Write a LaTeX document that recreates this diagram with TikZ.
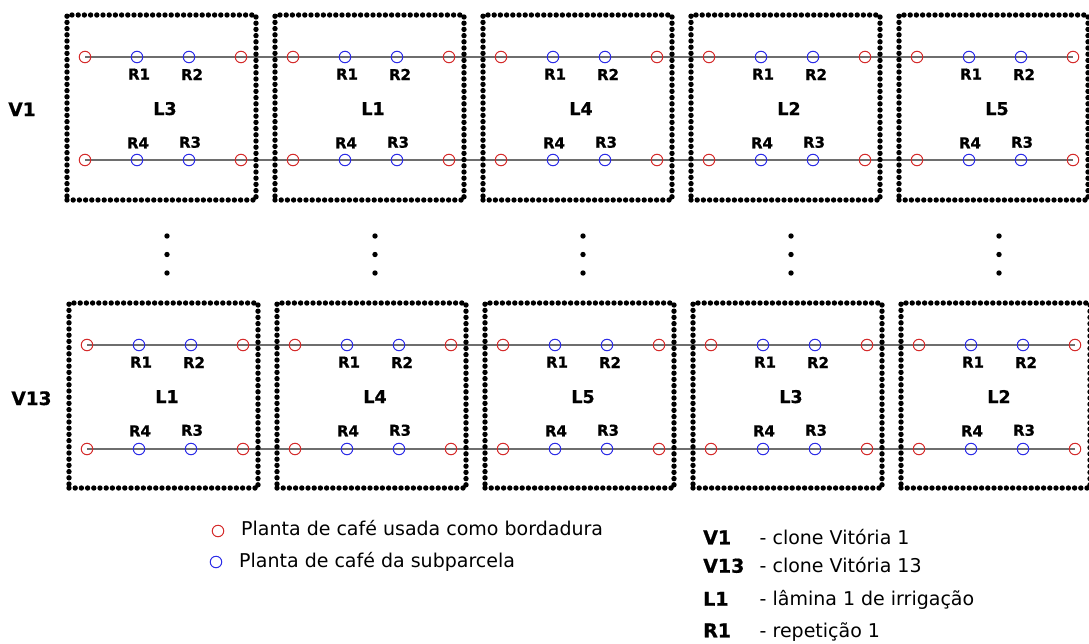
\documentclass[tikz,border=0pt]{standalone}
\usepackage{fontspec}
\setmainfont[BoldFeatures={FakeBold=0.8}]{DejaVu Sans}
\definecolor{edgered}{HTML}{D42A2A}
\definecolor{plotblue}{HTML}{2B2BE6}
\definecolor{rowgray}{HTML}{6E6E6E}
\pgfdeclarelayer{bg}
\pgfsetlayers{bg,main}
\begin{document}
\begin{tikzpicture}[x=1pt,y=-1pt,
  plotbox/.style={draw=black, line width=5.4pt, line cap=round,
    dash pattern=on 0pt off 6.2pt, minimum width=189pt, minimum height=185pt,
    inner sep=0pt},
  plant/.style={circle, draw, line width=1pt, minimum size=11.5pt, inner sep=0pt},
  border/.style={plant, draw=edgered},
  subplot/.style={plant, draw=plotblue},
  rowline/.style={draw=rowgray, line width=1.8pt},
  rlab/.style={font=\fontsize{15}{18}\selectfont\bfseries, inner sep=0pt, anchor=base},
  llab/.style={font=\fontsize{17.5}{21}\selectfont\bfseries, inner sep=0pt, anchor=base},
  vlab/.style={font=\fontsize{18.5}{22}\selectfont\bfseries, inner sep=0pt, anchor=base},
  legtext/.style={font=\fontsize{19}{23}\selectfont, inner sep=0pt, anchor=base west},
  keybold/.style={font=\fontsize{19}{23}\selectfont\bfseries, inner sep=0pt, anchor=base west},
  vdot/.style={fill=black}
]
\useasboundingbox (0,0) rectangle (1089,643);
\clip (0,0) rectangle (1089,643);

% clone V1: five irrigation plots
\foreach \lam [count=\n from 0] in {3,1,4,2,5}{
  \pgfmathsetmacro\L{67+208*\n}
  \node[plotbox] (t\n) at ({\L+94.5},107.5) {};
  \node[border]  (ta\n) at ({\L+18},57) {};
  \node[subplot] (tb\n) at ({\L+70},57) {};
  \node[subplot] (tc\n) at ({\L+122},57) {};
  \node[border]  (td\n) at ({\L+174},57) {};
  \node[border]  (te\n) at ({\L+18},160) {};
  \node[subplot] (tf\n) at ({\L+70},160) {};
  \node[subplot] (tg\n) at ({\L+122},160) {};
  \node[border]  (th\n) at ({\L+174},160) {};
  \node[rlab] (tr1\n) at ({\L+72},79.5) {R1};
  \node[rlab] (tr2\n) at ({\L+125},80) {R2};
  \node[rlab] (tr4\n) at ({\L+71},148.3) {R4};
  \node[rlab] (tr3\n) at ({\L+123},147.7) {R3};
  \node[llab] (tl\n) at ({\L+98},115) {L\lam};
  \fill[vdot] ({\L+100},236) circle (2.7) ({\L+100},254.5) circle (2.7) ({\L+100},273) circle (2.7);
}

% clone V13: five irrigation plots
\foreach \lam [count=\n from 0] in {1,4,5,3,2}{
  \pgfmathsetmacro\L{69+208*\n}
  \node[plotbox] (u\n) at ({\L+94.5},395.5) {};
  \node[border]  (ua\n) at ({\L+18},345) {};
  \node[subplot] (ub\n) at ({\L+70},345) {};
  \node[subplot] (uc\n) at ({\L+122},345) {};
  \node[border]  (ud\n) at ({\L+174},345) {};
  \node[border]  (ue\n) at ({\L+18},449) {};
  \node[subplot] (uf\n) at ({\L+70},449) {};
  \node[subplot] (ug\n) at ({\L+122},449) {};
  \node[border]  (uh\n) at ({\L+174},449) {};
  \node[rlab] (ur1\n) at ({\L+72},367.5) {R1};
  \node[rlab] (ur2\n) at ({\L+125},368) {R2};
  \node[rlab] (ur4\n) at ({\L+71},436.3) {R4};
  \node[rlab] (ur3\n) at ({\L+123},435.7) {R3};
  \node[llab] (ul\n) at ({\L+98},403) {L\lam};
}

% planting rows running through all plots
\begin{pgfonlayer}{bg}
  \draw[rowline] (ta0.center) -- (td4.center);
  \draw[rowline] (te0.center) -- (th4.center);
  \draw[rowline] (ua0.center) -- (ud4.center);
  \draw[rowline] (ue0.center) -- (uh4.center);
\end{pgfonlayer}

% clone labels
\node[vlab] (v1) at (22,116) {V1};
\node[vlab] (v13) at (31.5,405) {V13};

% legend: plant symbols
\node[border]  (kb) at (218,531) {};
\node[legtext] (kbt) at (241,535.5) {Planta de café usada como bordadura};
\node[subplot] (ks) at (216,562) {};
\node[legtext] (kst) at (239,567) {Planta de café da subparcela};

% legend: abbreviations
\node[keybold] (kv1) at (703,544.3) {V1};
\node[legtext] (kv1t) at (759.5,544.3) {- clone Vitória 1};
\node[keybold] (kv13) at (703,572.7) {V13};
\node[legtext] (kv13t) at (759.5,572.7) {- clone Vitória 13};
\node[keybold] (kl1) at (703,605.7) {L1};
\node[legtext] (kl1t) at (759.5,605.7) {- lâmina 1 de irrigação};
\node[keybold] (kr1) at (703,637.3) {R1};
\node[legtext] (kr1t) at (759.5,637.3) {- repetição 1};
\end{tikzpicture}
\end{document}
